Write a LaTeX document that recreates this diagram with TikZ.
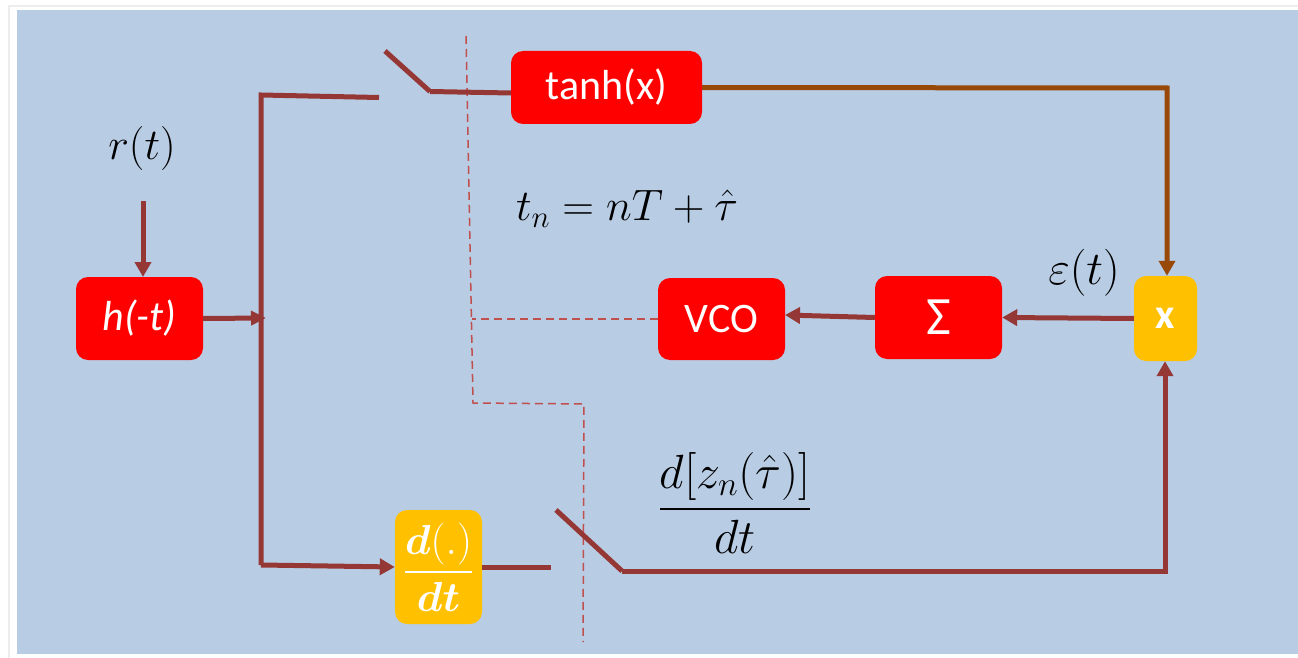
\RequirePackage{fix-cm}
\documentclass[tikz,border=0pt]{standalone}
\usepackage{amsmath, amssymb, bm}
\usepackage{fontspec}
\setmainfont{Carlito}
\usetikzlibrary{positioning, arrows.meta}

\begin{document}
\begin{tikzpicture}[
  x=1pt, y=-1pt,
  block/.style={rounded corners=12pt, inner sep=0pt, text=white, font=\fontsize{42}{46}\selectfont},
  redblock/.style={block, fill=red, minimum width=127pt, minimum height=83pt},
  ambblock/.style={block, fill=amber},
  wire/.style={draw=wirered, line width=5pt},
  arrow/.style={wire, -{Triangle[length=15pt,width=16pt]}},
  timing/.style={draw=dashred, line width=1.5pt, dash pattern=on 8pt off 5pt},
  mathlabel/.style={font=\fontsize{44}{50}\selectfont, inner sep=0pt}
]
\definecolor{panelblue}{HTML}{B8CCE4}
\definecolor{wirered}{HTML}{953735}
\definecolor{dashred}{HTML}{C0504D}
\definecolor{wirebrown}{HTML}{984807}
\definecolor{amber}{HTML}{FFC000}

\useasboundingbox (0,0) rectangle (1298,658);
\fill[white] (0,0) rectangle (1298,658);
\draw[black!7, line width=1.5pt] (9,658) -- (9,6) -- (1298,6);
\fill[panelblue] (17,10) rectangle (1298,654);

% blocks
\node[redblock] (hfilt) at (139.5,318.5) {\itshape h(-t)};
\node[redblock, minimum width=191pt, minimum height=73pt] (tanh) at (606.5,87.5) {tanh(x)};
\node[redblock, minimum height=82pt] (vco) at (721.5,319) {VCO};
\node[redblock, font=\fontsize{54}{56}\selectfont] (sum) at (938.5,317.5) {Σ};
\node[ambblock, minimum width=63pt, minimum height=85pt, font=\fontsize{42}{46}\selectfont\bfseries] (mult) at (1165.5,318.5) {x};
\node[ambblock, minimum width=87pt, minimum height=114pt, font=\fontsize{42}{46}\selectfont] (deriv) at (438.5,567) {$\dfrac{\bm{d}(.)}{\bm{dt}}$};

% labels
\node[mathlabel] (rlabel) at (142,149) {$r(t)$};
\node[mathlabel] (tlabel) at (627,209) {$t_n = nT + \hat{\tau}$};
\node[mathlabel, font=\fontsize{47}{50}\selectfont] (elabel) at (1084,273) {$\varepsilon(t)$};
\node[mathlabel, font=\fontsize{48}{50}\selectfont] (flabel) at (735,503) {$\dfrac{d[z_n(\hat{\tau})]}{dt}$};

\coordinate (rstart) at (143,201);
\coordinate (rend) at (143,277);
\coordinate (bustop) at (261,95);
\coordinate (busmid) at (266,318);
\coordinate (busbot) at (261,565);
\coordinate (swaopen) at (379,97.5);
\coordinate (swatip) at (385,51);
\coordinate (swapivot) at (430,91.5);
\coordinate (tanhin) at (511,93);
\coordinate (swbopen) at (551,567);
\coordinate (swbtip) at (556,510);
\coordinate (swbpivot) at (622,571);
\coordinate (cornerlow) at (1165,571);
\coordinate (cornerhigh) at (1167,88);
\coordinate (vcoin) at (785,315);

% timing line
\draw[timing] (466,36) -- (473,403) -- (584,404) -- (583,642);
\coordinate (tjoin) at (472,319);
\draw[timing] (vco.west) -- (tjoin);

% wires
\draw[arrow] (rstart) -- (rend);
\draw[arrow, -{Triangle[length=15pt,width=14pt]}] (hfilt.east) -- (busmid);
\draw[wire, line join=miter] (swaopen) -- (bustop) -- (busbot);
\draw[arrow] (busbot) -- (deriv.west);
\draw[wire] (swatip) -- (swapivot);
\draw[wire] (swapivot) -- (tanhin);
\draw[wire] (deriv.east) -- (swbopen);
\draw[wire] (swbtip) -- (swbpivot);
\draw[arrow] (swbpivot) -- (cornerlow) -- (mult.south -| cornerlow);
\draw[arrow, draw=wirebrown, color=wirebrown] (tanh.east) -- (cornerhigh) -- (mult.north -| cornerhigh);
\draw[arrow] (mult.west) -- (sum.east);
\draw[arrow] (sum.west) -- (vcoin);
\end{tikzpicture}
\end{document}
